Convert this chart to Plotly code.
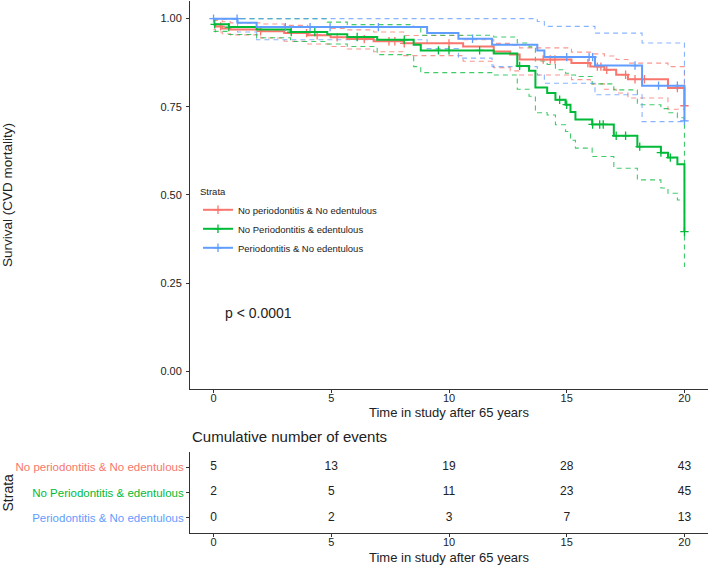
import numpy as np
import plotly.graph_objects as go

# ---------------- data ----------------
strata = ["No periodontitis & No edentulous", "No Periodontitis & edentulous", "Periodontitis & No edentulous"]
colors = ["#F8766D", "#00BA38", "#619CFF"]

red_t = [0, 0.08, 0.37, 0.72, 2.0, 3.0, 4.0, 4.97, 5.68, 6.8, 8.07, 10.6, 11.9, 12.6, 13.0, 15.2, 16.0, 16.6, 17.1, 17.6, 19.3, 20.0]
red_s = [0.983, 0.978, 0.972, 0.969, 0.964, 0.959, 0.953, 0.947, 0.942, 0.936, 0.930, 0.921, 0.907, 0.898, 0.884, 0.874, 0.864, 0.855, 0.841, 0.828, 0.803, 0.753]
red_u = [0.997, 0.995, 0.991, 0.988, 0.985, 0.981, 0.976, 0.972, 0.968, 0.962, 0.952, 0.940, 0.930, 0.925, 0.917, 0.905, 0.900, 0.894, 0.884, 0.874, 0.864, 0.810]
red_l = [0.969, 0.962, 0.957, 0.954, 0.945, 0.936, 0.928, 0.921, 0.914, 0.906, 0.895, 0.879, 0.861, 0.852, 0.840, 0.827, 0.815, 0.800, 0.789, 0.775, 0.743, 0.700]
red_cens = [0.3, 2.0, 3.95, 4.4, 5.25, 6.4, 7.45, 7.7, 8.1, 10.0, 14.0, 14.3, 14.5, 15.9, 16.3, 16.45, 16.7, 17.5, 17.9, 18.3, 19.7, 20.0]

green_t = [0, 0.65, 1.83, 3.27, 4.83, 5.68, 6.95, 8.5, 8.8, 11.9, 12.9, 13.4, 13.67, 14.17, 14.52, 14.95, 15.16, 15.37, 16.08, 17.0, 18.0, 19.0, 19.3, 19.7, 20.0]
green_s = [0.984, 0.976, 0.969, 0.962, 0.956, 0.948, 0.940, 0.926, 0.910, 0.901, 0.866, 0.852, 0.805, 0.789, 0.770, 0.756, 0.735, 0.714, 0.700, 0.668, 0.637, 0.620, 0.606, 0.587, 0.396]
green_u = [1.0, 1.0, 1.0, 1.0, 0.990, 0.983, 0.983, 0.975, 0.953, 0.948, 0.931, 0.920, 0.880, 0.870, 0.855, 0.845, 0.840, 0.836, 0.815, 0.798, 0.756, 0.745, 0.733, 0.719, 0.530]
green_l = [0.964, 0.955, 0.946, 0.935, 0.928, 0.921, 0.898, 0.864, 0.847, 0.840, 0.800, 0.780, 0.733, 0.727, 0.699, 0.680, 0.655, 0.633, 0.609, 0.576, 0.543, 0.520, 0.505, 0.486, 0.296]
green_cens = [0.05, 0.65, 3.3, 4.3, 6.1, 8.1, 9.55, 10.0, 11.3, 13.0, 14.7, 15.0, 16.1, 16.4, 16.55, 17.1, 17.5, 18.1, 19.0, 19.4, 20.0]

blue_t = [0, 1.02, 1.83, 9.07, 10.4, 11.83, 13.75, 14.05, 16.2, 18.2, 20.0]
blue_s = [1.0, 0.988, 0.976, 0.959, 0.943, 0.926, 0.910, 0.891, 0.867, 0.810, 0.710]
blue_u = [1.0, 1.0, 1.0, 1.0, 1.0, 1.0, 0.992, 0.978, 0.959, 0.931, 0.710]
blue_l = [1.0, 0.962, 0.940, 0.915, 0.888, 0.864, 0.840, 0.817, 0.784, 0.708, 0.705]
blue_cens = [0.0, 1.0, 3.05, 4.1, 4.95, 7.0, 11.0, 15.0, 15.95, 16.1, 17.9, 18.9, 19.7, 20.0]

table_times = [0, 5, 10, 15, 20]
events_red = [5, 13, 19, 28, 43]
events_green = [2, 5, 11, 23, 45]
events_blue = [0, 2, 3, 7, 13]

y_ticks = [0, 0.25, 0.5, 0.75, 1.0]
p_text = "p < 0.0001"

# ---------------- figure ----------------
FONT = "Liberation Sans, Arial, sans-serif"
TXT = "#222222"
AX = "#333333"

groups = [
    (red_t, red_s, red_u, red_l, red_cens, events_red),
    (green_t, green_s, green_u, green_l, green_cens, events_green),
    (blue_t, blue_s, blue_u, blue_l, blue_cens, events_blue),
]

fig = go.Figure()

def step_at(times, vals, pts):
    idx = np.searchsorted(np.array(times), np.array(pts), side="right") - 1
    return [vals[i] for i in idx]

# confidence bands first (below)
for (t, s, u, l, c, ev), col in zip(groups, colors):
    for band in (u, l):
        fig.add_trace(go.Scatter(x=t, y=band, mode="lines", line_shape="hv",
                                 line=dict(color=col, width=1.1, dash="5px,4px"),
                                 opacity=0.75, showlegend=False, hoverinfo="skip",
                                 xaxis="x", yaxis="y"))

for (t, s, u, l, c, ev), col, name in zip(groups, colors, strata):
    fig.add_trace(go.Scatter(x=t, y=s, mode="lines", line_shape="hv",
                             line=dict(color=col, width=2), showlegend=False,
                             hoverinfo="skip", xaxis="x", yaxis="y"))
    fig.add_trace(go.Scatter(x=c, y=step_at(t, s, c), mode="markers",
                             marker=dict(symbol="cross-thin", size=6,
                                         line=dict(color=col, width=1.3)),
                             showlegend=False, hoverinfo="skip", xaxis="x", yaxis="y"))
    # legend entry
    fig.add_trace(go.Scatter(x=[None], y=[None], mode="lines+markers", name=name,
                             line=dict(color=col, width=2),
                             marker=dict(symbol="cross-thin", size=6,
                                         line=dict(color=col, width=1.3)),
                             xaxis="x", yaxis="y"))

# risk table (cumulative events)
for i, ((t, s, u, l, c, ev), col) in enumerate(zip(groups, colors)):
    fig.add_trace(go.Scatter(x=table_times, y=[i + 1] * len(table_times), mode="text",
                             text=[str(v) for v in ev],
                             textfont=dict(size=12, color=TXT, family=FONT),
                             showlegend=False, hoverinfo="skip", xaxis="x2", yaxis="y2"))

axis_common = dict(showline=True, linecolor=AX, linewidth=1, ticks="outside",
                   ticklen=3, tickcolor=AX, showgrid=False, zeroline=False,
                   tickfont=dict(size=11, color=TXT, family=FONT))

tick_labels = [f"<span style='color:{c}'>{s}</span>" for s, c in zip(strata, colors)]

fig.update_layout(
    width=709, height=566,
    margin=dict(l=190, r=1, t=1, b=33),
    paper_bgcolor="white", plot_bgcolor="white",
    font=dict(family=FONT, color=TXT),
    xaxis=dict(domain=[0, 1], anchor="y", range=[-1, 21], tickvals=table_times,
               ticklabelstandoff=-4, **axis_common),
    yaxis=dict(domain=[0.2707, 1.0], anchor="x", range=[-0.05, 1.05], tickvals=y_ticks,
               tickformat=".2f", ticklabelstandoff=2, **axis_common),
    xaxis2=dict(domain=[0, 1], anchor="y2", range=[-1, 21], tickvals=table_times,
                ticklabelstandoff=-4, **axis_common),
    yaxis2=dict(domain=[0, 0.1523], anchor="x2", range=[3.6, 0.4], tickvals=[1, 2, 3],
                ticktext=tick_labels,
                **{**axis_common, "tickfont": dict(size=11.5, family=FONT)}),
    legend=dict(x=0.0154, y=0.658, xanchor="left", yanchor="top",
                bgcolor="rgba(0,0,0,0)", font=dict(size=9.5, color=TXT, family=FONT),
                title=dict(text="Strata", font=dict(size=9.5, color=TXT, family=FONT)),
                itemwidth=30, tracegroupgap=0),
    showlegend=True,
)

ann = [
    dict(text="Time in study after 65 years", xref="x domain", yref="y domain", x=0.5, y=0,
         yshift=-24, xanchor="center", yanchor="middle", showarrow=False,
         font=dict(size=13, color=TXT)),
    dict(text="Time in study after 65 years", xref="x2 domain", yref="y2 domain", x=0.5, y=0,
         yshift=-24, xanchor="center", yanchor="middle", showarrow=False,
         font=dict(size=13, color=TXT)),
    dict(text="Survival (CVD mortality)", xref="paper", yref="y domain", x=0, y=0.5,
         xshift=-182, xanchor="center", yanchor="middle", textangle=-90, showarrow=False,
         font=dict(size=13.5, color=TXT)),
    dict(text="Strata", xref="paper", yref="y2 domain", x=0, y=0.5,
         xshift=-182, xanchor="center", yanchor="middle", textangle=-90, showarrow=False,
         font=dict(size=14, color=TXT)),
    dict(text="Cumulative number of events", xref="x2 domain", yref="y2 domain", x=0, y=1,
         yshift=15, xanchor="left", yanchor="middle", showarrow=False,
         font=dict(size=15, color=TXT)),
    dict(text=p_text, xref="x", yref="y", x=0.42, y=0.166, xanchor="left", yanchor="middle",
         showarrow=False, font=dict(size=14, color=TXT)),
]
fig.update_layout(annotations=ann)

fig.write_html("out.html", config={"displayModeBar": False},
               post_script="document.body.style.margin='0';document.body.style.overflow='hidden';")
